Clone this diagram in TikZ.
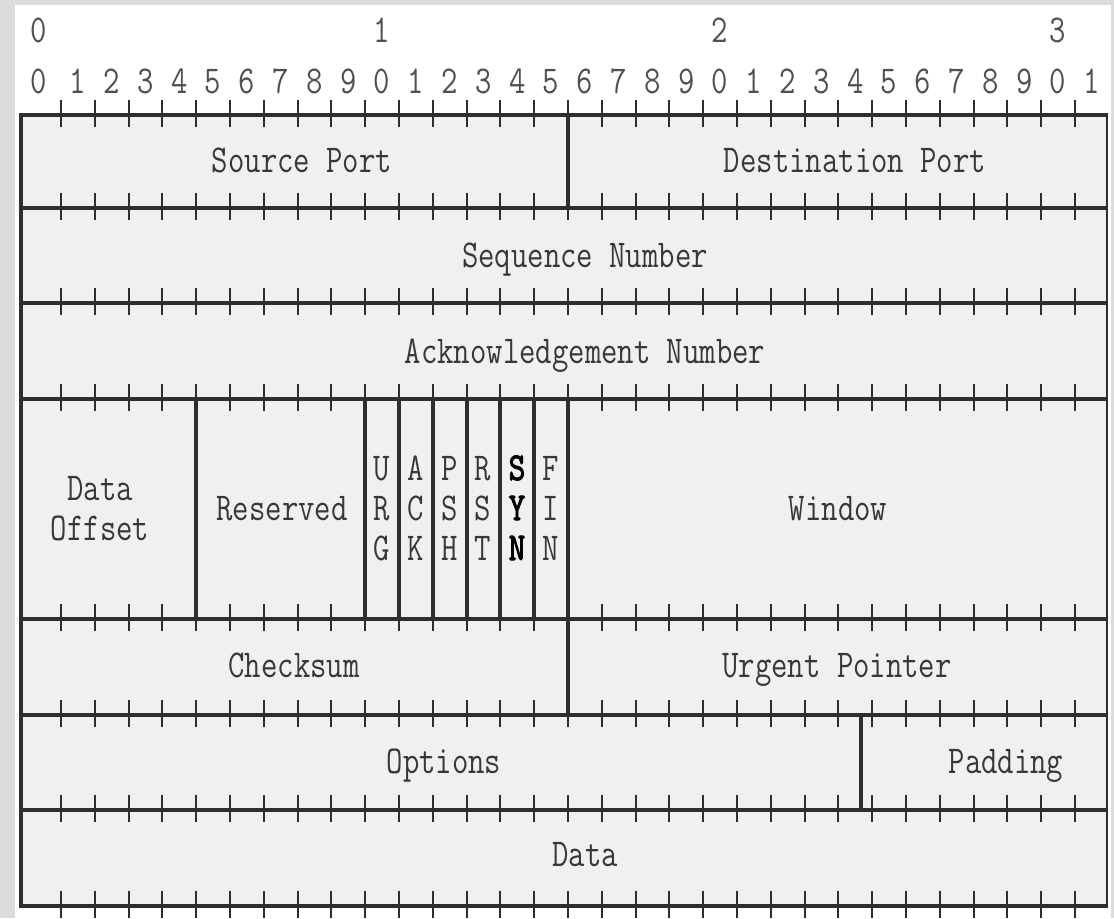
\documentclass[tikz,border=0pt]{standalone}
\usepackage{fontspec}
\usepackage{graphicx}
\newfontfamily\ttbold[FakeBold=2.5]{lmmono10-regular.otf}
\newcommand\stretchy[1]{\scalebox{1}[1.24]{#1}}
\definecolor{bggray}{HTML}{DCDCDC}
\definecolor{cellfill}{HTML}{F0F0F0}
\definecolor{linec}{HTML}{2E2E2E}
\definecolor{txt}{HTML}{383838}
\definecolor{hdr}{HTML}{505050}
\begin{document}
\begin{tikzpicture}[x=0.75pt,y=-0.75pt,
  lbl/.style={font=\ttfamily\fontsize{23.85}{28}\selectfont, text=txt, inner sep=0pt, anchor=base},
  hnum/.style={lbl, text=hdr},
  blbl/.style={lbl, font=\ttbold\fontsize{23.85}{28}\selectfont, text=black},
  hline/.style={draw=linec, line width=3.4pt},
  vline/.style={draw=linec, line width=2.6pt},
  tickmark/.style={draw=linec, line width=1.4pt}]
\fill[bggray] (0,0) rectangle (1114,918);
\useasboundingbox (0,0) rectangle (1114,918);
\fill[white] (15,5) rectangle (1111,918);
\fill[cellfill] (20,115) rectangle (1107,906);
% ticks
\foreach \yy in {115,208,303,399,619,715,810,906}
  \foreach \k in {0,...,30}
    \draw[tickmark] ({61+33.8*\k},{\yy-15}) -- ({61+33.8*\k},{\yy+12});
% horizontal lines
\foreach \yy in {115,208,303,399,619,715,810,906}
  \draw[hline] (19,\yy) -- (1108,\yy);
% outer verticals
\draw[draw=linec, line width=3pt] (20.5,114) -- (20.5,907);
\draw[draw=linec, line width=2.2pt] (1107,114) -- (1107,907);
% inner dividers
\draw[vline] (568,115) -- (568,208);
\draw[vline] (196,399) -- (196,619);
\foreach \xx in {365,399,433,467,500,534}
  \draw[vline] (\xx,399) -- (\xx,619);
\draw[vline] (568,399) -- (568,715);
\draw[vline] (861,715) -- (861,810);
% header numbers
\node[hnum] (t0) at (39,42) {\stretchy{0}};
\node[hnum] (t1) at (382,42) {\stretchy{1}};
\node[hnum] (t2) at (720,42) {\stretchy{2}};
\node[hnum] (t3) at (1058,42) {\stretchy{3}};
\node[hnum] (b0) at (39,93) {\stretchy{0}};
\foreach \k in {1,...,31}{
  \pgfmathtruncatemacro\dig{mod(\k,10)}
  \node[hnum] (b\k) at ({44.1+33.8*\k},93) {\stretchy{\dig}};
}
% field labels
\node[lbl] (srcport) at (302,172) {\stretchy{Source Port}};
\node[lbl] (dstport) at (855,172) {\stretchy{Destination Port}};
\node[lbl] (seqnum) at (585,267) {\stretchy{Sequence Number}};
\node[lbl] (acknum) at (585,363) {\stretchy{Acknowledgement Number}};
\node[lbl] (doff1) at (100,500) {\stretchy{Data}};
\node[lbl] (doff2) at (100,540) {\stretchy{Offset}};
\node[lbl] (reserved) at (282,520) {\stretchy{Reserved}};
\node[lbl] (u1) at (382,480) {\stretchy{U}};
\node[lbl] (u2) at (382,520) {\stretchy{R}};
\node[lbl] (u3) at (382,560) {\stretchy{G}};
\node[lbl] (a1) at (416,480) {\stretchy{A}};
\node[lbl] (a2) at (416,520) {\stretchy{C}};
\node[lbl] (a3) at (416,560) {\stretchy{K}};
\node[lbl] (p1) at (450,480) {\stretchy{P}};
\node[lbl] (p2) at (450,520) {\stretchy{S}};
\node[lbl] (p3) at (450,560) {\stretchy{H}};
\node[lbl] (r1) at (483,480) {\stretchy{R}};
\node[lbl] (r2) at (483,520) {\stretchy{S}};
\node[lbl] (r3) at (483,560) {\stretchy{T}};
\node[blbl] (s1) at (517,480) {\stretchy{S}};
\node[blbl] (s2) at (517,520) {\stretchy{Y}};
\node[blbl] (s3) at (517,560) {\stretchy{N}};
\node[lbl] (f1) at (551,480) {\stretchy{F}};
\node[lbl] (f2) at (551,520) {\stretchy{I}};
\node[lbl] (f3) at (551,560) {\stretchy{N}};
\node[lbl] (window) at (838,520) {\stretchy{Window}};
\node[lbl] (checksum) at (294,677) {\stretchy{Checksum}};
\node[lbl] (urgent) at (837,677) {\stretchy{Urgent Pointer}};
\node[lbl] (options) at (444,773) {\stretchy{Options}};
\node[lbl] (padding) at (1006,773) {\stretchy{Padding}};
\node[lbl] (data) at (585,866) {\stretchy{Data}};
\end{tikzpicture}
\end{document}
